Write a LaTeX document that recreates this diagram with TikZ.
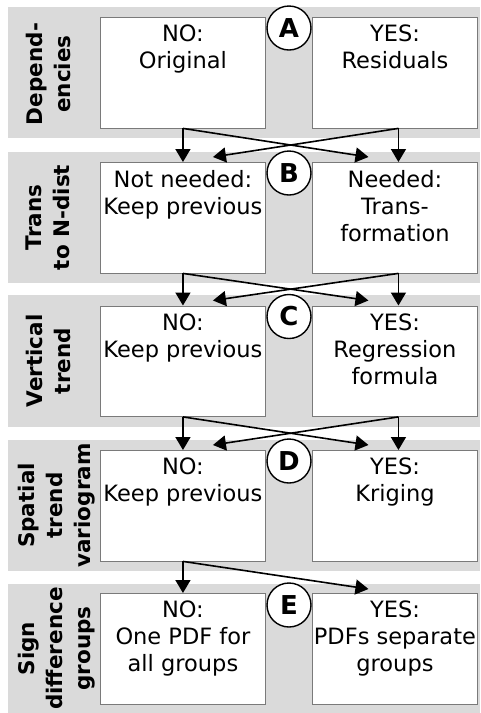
\documentclass[tikz,border=0pt]{standalone}
\usepackage{fontspec}
\setmainfont{DejaVu Sans}
\usetikzlibrary{arrows.meta}
\definecolor{bandgray}{HTML}{DADADA}
\definecolor{boxedge}{HTML}{7A7A7A}
\tikzset{
  band/.style={fill=bandgray, draw=none},
  choice/.style={draw=boxedge, line width=0.9pt, fill=white, minimum width=165pt, minimum height=110.5pt, inner sep=0pt, anchor=north west},
  choicetext/.style={anchor=north, inner sep=0pt, align=center, font=\fontsize{22.5}{27}\selectfont},
  rowlabel/.style={rotate=90, align=center, inner sep=0pt, font=\bfseries\fontsize{21.5}{28}\selectfont},
  stepmark/.style={circle, draw=black, line width=1.4pt, fill=white, minimum size=44pt, inner sep=0pt, font=\bfseries\fontsize{26}{26}\selectfont},
  flow/.style={line width=1.6pt, -{Triangle[width=15pt,length=13pt]}},
}
\begin{document}
\begin{tikzpicture}[x=1pt,y=-1pt]
\useasboundingbox[fill=white] (0,0) rectangle (480,713);
% bands
\fill[band] (8,7) rectangle (480,138);
\fill[band] (8,152) rectangle (480,283);
\fill[band] (8,295) rectangle (480,427);
\fill[band] (8,440) rectangle (480,571);
\fill[band] (8,584) rectangle (480,713);
% row labels
\node[rowlabel] (la) at (48,74) {Depend-\\encies};
\node[rowlabel] (lb) at (48,217.5) {Trans\\to N-dist};
\node[rowlabel] (lc) at (48,361) {Vertical\\trend};
\node[rowlabel] (ld) at (57,505.5) {Spatial\\trend\\variogram};
\node[rowlabel] (le) at (57,648.5) {Sign\\difference\\groups};
% boxes
\node[choice] (a1) at (100,17) {};
\node[choice] (a2) at (312,17) {};
\node[choice] (b1) at (100,162) {};
\node[choice] (b2) at (312,162) {};
\node[choice] (c1) at (100,305.5) {};
\node[choice] (c2) at (312,305.5) {};
\node[choice] (d1) at (100,450) {};
\node[choice] (d2) at (312,450) {};
\node[choice] (e1) at (100,593) {};
\node[choice] (e2) at (312,593) {};
% box texts
\node[choicetext] (ta1) at ([yshift=-8pt]a1.north) {NO:\\Original};
\node[choicetext] (ta2) at ([yshift=-8pt]a2.north) {YES:\\Residuals};
\node[choicetext] (tb1) at ([yshift=-8pt]b1.north) {Not needed:\\Keep previous};
\node[choicetext] (tb2) at ([yshift=-8pt]b2.north) {Needed:\\Trans-\\formation};
\node[choicetext] (tc1) at ([yshift=-8pt]c1.north) {NO:\\Keep previous};
\node[choicetext] (tc2) at ([yshift=-8pt]c2.north) {YES:\\Regression\\formula};
\node[choicetext] (td1) at ([yshift=-8pt]d1.north) {NO:\\Keep previous};
\node[choicetext] (td2) at ([yshift=-8pt]d2.north) {YES:\\Kriging};
\node[choicetext] (te1) at ([yshift=-8pt]e1.north) {NO:\\One PDF for\\all groups};
\node[choicetext] (te2) at ([yshift=-8pt]e2.north) {YES:\\PDFs separate\\groups};
% step markers
\node[stepmark] (ma) at (289,28) {A};
\node[stepmark] (mb) at (289,173) {B};
\node[stepmark] (mc) at (289,316.5) {C};
\node[stepmark] (md) at (289,461) {D};
\node[stepmark] (me) at (289,605) {E};
% connectors A -> B
\draw[flow] (a1.south) -- (b1.north);
\draw[flow] ([xshift=3.5pt]a2.south) -- ([xshift=3.5pt]b2.north);
\draw[flow] (a1.south) -- ([xshift=-26.5pt,yshift=5pt]b2.north);
\draw[flow] ([xshift=3.5pt]a2.south) -- ([xshift=30pt,yshift=5pt]b1.north);
% B -> C
\draw[flow] (b1.south) -- (c1.north);
\draw[flow] ([xshift=3.5pt]b2.south) -- ([xshift=3.5pt]c2.north);
\draw[flow] (b1.south) -- ([xshift=-26.5pt,yshift=5pt]c2.north);
\draw[flow] ([xshift=3.5pt]b2.south) -- ([xshift=30pt,yshift=5pt]c1.north);
% C -> D
\draw[flow] (c1.south) -- (d1.north);
\draw[flow] ([xshift=3.5pt]c2.south) -- ([xshift=3.5pt]d2.north);
\draw[flow] (c1.south) -- ([xshift=-26.5pt,yshift=5pt]d2.north);
\draw[flow] ([xshift=3.5pt]c2.south) -- ([xshift=30pt,yshift=5pt]d1.north);
% D -> E
\draw[flow] (d1.south) -- (e1.north);
\draw[flow] (d1.south) -- ([xshift=-26.5pt,yshift=4pt]e2.north);
\end{tikzpicture}
\end{document}
